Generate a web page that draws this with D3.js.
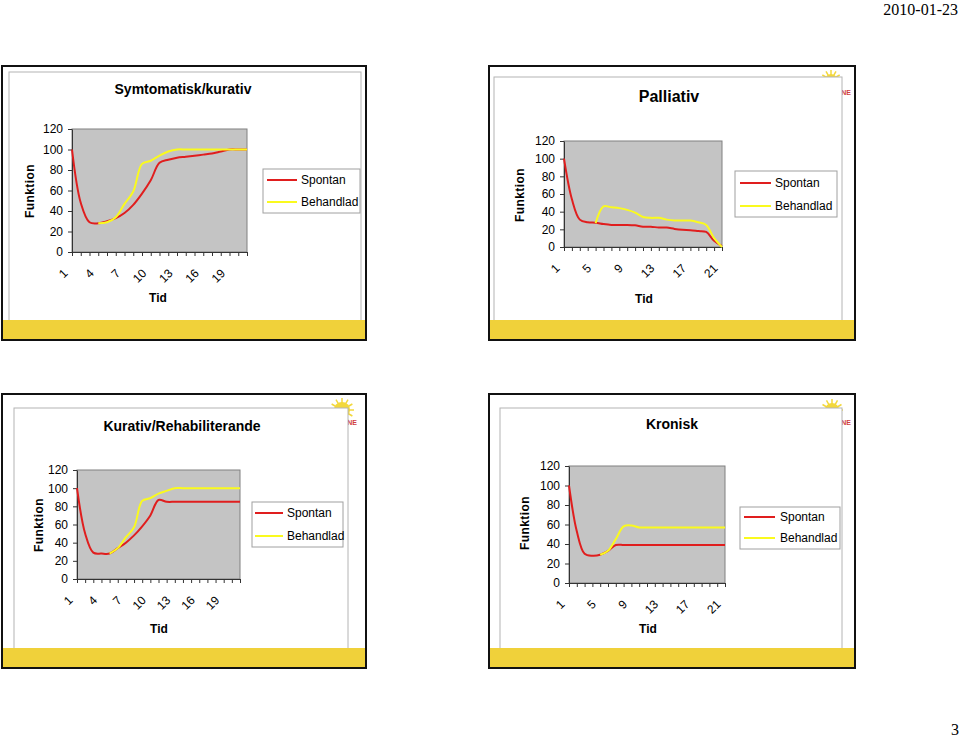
<!DOCTYPE html>
<html><head><meta charset="utf-8">
<script src="https://cdn.jsdelivr.net/npm/d3@7"></script>
<style>
html,body{margin:0;padding:0;background:#fff;}
svg{display:block;}
text{font-family:"Liberation Sans", Arial, sans-serif;}
</style></head><body>
<svg id="page" width="960" height="737"></svg>
<script>
// ---------- data ----------
const categories = [1,2,3,4,5,6,7,8,9,10,11,12,13,14,15,16,17,18,19,20,21];
const yTickValues = [0,20,40,60,80,100,120];
const xTickLabelsA = [1,4,7,10,13,16,19];
const xTickLabelsB = [1,5,9,13,17,21];
const seriesNames = ["Spontan","Behandlad"];
const chartTitles = ["Symtomatisk/kurativ","Palliativ","Kurativ/Rehabiliterande","Kronisk"];
const yAxisTitle = "Funktion";
const xAxisTitle = "Tid";
const pageDate = "2010-01-23";
const pageNumber = "3";

const symtomatiskSpontan   = [100,48,29,28,30,33,38,46,57,70,87,90,92,93,94,95,96,98,100,100,100];
const symtomatiskBehandlad = [null,null,null,28,29,34,47,59,86,89,94,98,100,100,100,100,100,100,100,100,100];

const palliativSpontan   = [100,54,31,28,27.5,26,25,25,25,24.5,23,23,22,22,20.5,19.5,19,18,17,7,1];
const palliativBehandlad = [null,null,null,null,27,46,45,44,42,39,34,33,33,31,30,30,30,28,25,10,0];

const kurativSpontan   = [100,50,29,28,28,34,40,48,58,70,87,85,85,85,85,85,85,85,85,85,85];
const kurativBehandlad = [null,null,null,null,28,34,46,57,86,89,94,97,100,100,100,100,100,100,100,100,100];

const kroniskSpontan   = [100,53,30,28,29,33,39,39,39,39,39,39,39,39,39,39,39,39,39,39,39];
const kroniskBehandlad = [null,null,null,null,29,33,45,58,59,57,57,57,57,57,57,57,57,57,57,57,57];

// ---------- layout & style ----------
const seriesColors = ["#e01e1e","#fafa1e"];
const plotFill = "#c4c4c4";
const bandColor = "#f0d13a";

const layouts = [
  {frame:{x:2,y:66,w:364,h:274}, card:{x:9,y:72,w:352,h:253},
   plot:{l:72,t:129,r:247,b:252}, titleX:183, titleY:94, titleSize:14,
   yTitleX:29, yTitleY:191, xTitleX:158, xTitleY:302,
   legend:{x:263,y:169,w:97,h:44,row1:180,row2:202,x1:267,x2:297,tx:301}, logo:null},
  {frame:{x:489,y:66,w:366,h:274}, card:{x:494,y:77,w:348,h:248},
   plot:{l:564,t:141,r:722,b:247}, titleX:669, titleY:102, titleSize:16,
   yTitleX:519, yTitleY:195, xTitleX:644, xTitleY:303,
   legend:{x:735,y:171,w:102,h:46,row1:183,row2:206,x1:740,x2:771,tx:775}, logo:{cx:831,cy:80,r:6}},
  {frame:{x:2,y:394,w:364,h:274}, card:{x:14,y:408,w:334,h:247},
   plot:{l:77,t:470,r:240,b:579}, titleX:182, titleY:431, titleSize:14,
   yTitleX:38, yTitleY:525, xTitleX:159, xTitleY:633,
   legend:{x:252,y:502,w:91,h:45,row1:513,row2:536,x1:255,x2:283,tx:287}, logo:{cx:342,cy:410,r:8}},
  {frame:{x:489,y:394,w:366,h:274}, card:{x:500,y:408,w:342,h:245},
   plot:{l:569,t:466,r:725,b:583}, titleX:672, titleY:429, titleSize:14,
   yTitleX:524, yTitleY:523, xTitleX:648, xTitleY:633,
   legend:{x:740,y:507,w:100,h:42,row1:517,row2:538,x1:744,x2:775,tx:780}, logo:{cx:832,cy:410,r:7}}
];

const charts = [
  {title:chartTitles[0], series:[symtomatiskSpontan, symtomatiskBehandlad], xLabels:xTickLabelsA, L:layouts[0]},
  {title:chartTitles[1], series:[palliativSpontan, palliativBehandlad], xLabels:xTickLabelsB, L:layouts[1]},
  {title:chartTitles[2], series:[kurativSpontan, kurativBehandlad], xLabels:xTickLabelsA, L:layouts[2]},
  {title:chartTitles[3], series:[kroniskSpontan, kroniskBehandlad], xLabels:xTickLabelsB, L:layouts[3]}
];

const svg = d3.select("#page");
svg.append("rect").attr("width",960).attr("height",737).attr("fill","#fff");

svg.append("text").attr("x",958).attr("y",15).attr("text-anchor","end")
  .style("font-family","'Liberation Serif','Times New Roman',serif").style("font-size","16px")
  .text(pageDate);
svg.append("text").attr("x",959).attr("y",735).attr("text-anchor","end")
  .style("font-family","'Liberation Serif','Times New Roman',serif").style("font-size","16px")
  .text(pageNumber);

charts.forEach(ch => {
  const L = ch.L, p = L.plot;
  const g = svg.append("g");
  // slide
  g.append("rect").attr("x",L.frame.x).attr("y",L.frame.y).attr("width",L.frame.w).attr("height",L.frame.h)
    .attr("fill","#fff");
  if (L.logo) {
    const lg = g.append("g");
    const rays = d3.range(0, 360, 30);
    lg.selectAll("line.ray").data(rays).join("line").attr("class","ray")
      .attr("x1",L.logo.cx).attr("y1",L.logo.cy)
      .attr("x2",a => L.logo.cx + Math.cos(a*Math.PI/180)*(L.logo.r+4))
      .attr("y2",a => L.logo.cy + Math.sin(a*Math.PI/180)*(L.logo.r+4))
      .attr("stroke","#f3d83c").attr("stroke-width",1.5);
    lg.append("circle").attr("cx",L.logo.cx).attr("cy",L.logo.cy).attr("r",L.logo.r).attr("fill","#f3d83c");
    lg.append("text").attr("x",L.card.x+L.card.w+9).attr("y",L.logo.cy+15).attr("text-anchor","end")
      .style("font-size","7px").style("font-weight","bold").attr("fill","#d04040").text("SKÅNE");
  }
  // card
  g.append("rect").attr("x",L.card.x).attr("y",L.card.y).attr("width",L.card.w).attr("height",L.card.h)
    .attr("fill","#fff").attr("stroke","#b4b4b4").attr("stroke-width",1);
  // bottom yellow band
  const bandTop = L.frame.y + L.frame.h - 20;
  g.append("rect").attr("x",L.frame.x).attr("y",bandTop).attr("width",L.frame.w).attr("height",20)
    .attr("fill",bandColor);
  g.append("rect").attr("x",L.frame.x).attr("y",L.frame.y).attr("width",L.frame.w).attr("height",L.frame.h)
    .attr("fill","none").attr("stroke","#111").attr("stroke-width",2);

  // scales
  const x = d3.scalePoint().domain(categories).range([p.l, p.r]);
  const y = d3.scaleLinear().domain([0,120]).range([p.b, p.t]);

  g.append("rect").attr("x",p.l).attr("y",p.t).attr("width",p.r-p.l).attr("height",p.b-p.t)
    .attr("fill",plotFill).attr("stroke","#808080").attr("stroke-width",1);

  const ya = g.append("g").attr("transform",`translate(${p.l},0)`)
    .call(d3.axisLeft(y).tickValues(yTickValues).tickSize(4).tickSizeOuter(0).tickPadding(5));
  ya.selectAll("text").style("font-size","12px").style("font-family","'Liberation Sans',Arial,sans-serif").attr("fill","#000");
  ya.selectAll("line,path").attr("stroke","#333");

  const xa = g.append("g").attr("transform",`translate(0,${p.b})`)
    .call(d3.axisBottom(x).tickValues(categories).tickSize(4).tickSizeOuter(0)
      .tickFormat(d => ch.xLabels.includes(d) ? String(d) : ""));
  xa.selectAll("line,path").attr("stroke","#333");
  xa.selectAll("text").style("font-size","12px").style("font-family","'Liberation Sans',Arial,sans-serif")
    .attr("fill","#000").attr("x",0).attr("y",0).attr("dy","0.35em")
    .attr("transform","translate(-7,19) rotate(-45)").style("text-anchor","end");

  // lines
  ch.series.forEach((vals, si) => {
    const line = d3.line()
      .defined(d => d != null)
      .x((d,i) => x(categories[i]))
      .y(d => y(d))
      .curve(d3.curveCatmullRom.alpha(0.5));
    g.append("path").datum(vals).attr("d",line).attr("fill","none")
      .attr("stroke",seriesColors[si]).attr("stroke-width",2).attr("stroke-linejoin","round");
  });

  // titles
  g.append("text").attr("x",L.titleX).attr("y",L.titleY).attr("text-anchor","middle")
    .style("font-size",L.titleSize+"px").style("font-weight","bold").text(ch.title);
  g.append("text").attr("transform",`translate(${L.yTitleX+4.5},${L.yTitleY}) rotate(-90)`)
    .attr("text-anchor","middle").style("font-size","12px").style("font-weight","bold")
    .style("letter-spacing","0.4px").text(yAxisTitle);
  g.append("text").attr("x",L.xTitleX).attr("y",L.xTitleY).attr("text-anchor","middle")
    .style("font-size","12px").style("font-weight","bold").text(xAxisTitle);

  // legend
  const lgd = L.legend;
  g.append("rect").attr("x",lgd.x).attr("y",lgd.y).attr("width",lgd.w).attr("height",lgd.h)
    .attr("fill","#fff").attr("stroke","#a0a0a0").attr("stroke-width",1);
  [lgd.row1, lgd.row2].forEach((ry, si) => {
    g.append("line").attr("x1",lgd.x1).attr("x2",lgd.x2).attr("y1",ry).attr("y2",ry)
      .attr("stroke",seriesColors[si]).attr("stroke-width",2);
    g.append("text").attr("x",lgd.tx).attr("y",ry).attr("dy","0.35em")
      .style("font-size","12px").text(seriesNames[si]);
  });
});
</script>
</body></html>
